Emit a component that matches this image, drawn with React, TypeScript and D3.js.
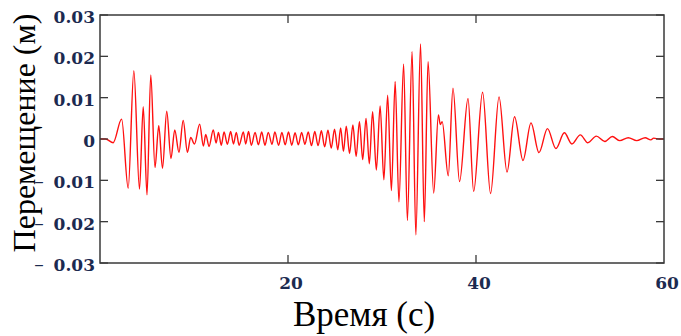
import React, { useEffect, useRef } from 'react';
import * as d3 from 'd3';

// extremes of the displacement trace (time s, displacement m)
const peakTimes = [
  0, 0.6, 1.4, 2.3, 3.0, 3.6, 4.2, 4.6, 5.0, 5.4, 5.85, 6.25, 6.65, 7.1, 7.55, 7.95, 8.4, 8.85, 9.3, 9.65,
  10.05, 10.6, 11.0, 11.25, 11.6, 12.05, 12.35, 12.6, 12.9, 13.2, 13.55, 13.9, 14.2, 14.5, 14.8, 15.25,
  15.5, 15.8, 16.1, 16.5, 16.85, 17.2, 17.55, 17.9, 18.3, 18.6, 19.0, 19.35, 19.7, 20.05, 20.4, 20.75,
  21.1, 21.45, 21.8, 22.15, 22.5, 22.85, 23.2, 23.55, 23.9, 24.25, 24.6, 24.95, 25.3, 25.6, 25.9, 26.2,
  26.55, 26.9, 27.25, 27.6, 27.95, 28.3, 28.65, 29.0, 29.4, 29.8, 30.2, 30.6, 31.0, 31.4, 31.8, 32.3,
  32.7, 33.2, 33.6, 34.1, 34.5, 34.9, 35.5, 36.0, 36.2, 36.4, 37.05, 37.55, 38.25, 39.15, 39.75, 40.7,
  41.55, 42.45, 43.3, 44.1, 45.0, 45.85, 46.7, 47.6, 48.5, 49.4, 50.2, 51.1, 51.9, 52.8, 53.7, 54.5,
  55.3, 56.2, 57.1, 58.0, 58.6, 58.9, 59.5, 60
];
const peakValues = [
  0, 0, -0.0009, 0.0048, -0.0119, 0.0165, -0.0121, 0.0078, -0.0135, 0.0155, -0.0069, 0.0032, -0.0071, 0.0067, -0.0047, 0.0022, -0.0032, 0.0045, -0.0032, 0.0004,
  -0.0012, 0.0036, -0.0017, 0.0011, -0.0018, 0.0022, -0.001, 0.0016, -0.0015, 0.0017, -0.0013, 0.0018, -0.0012, 0.0016, -0.0015, 0.0017,
  -0.0012, 0.0018, -0.0015, 0.0016, -0.0014, 0.0017, -0.0015, 0.0016, -0.0013, 0.0017, -0.0015, 0.0016, -0.0014, 0.0017, -0.0015, 0.0015,
  -0.0014, 0.0016, -0.0013, 0.0017, -0.0016, 0.0018, -0.0016, 0.002, -0.0019, 0.0021, -0.0022, 0.0024, -0.0026, 0.0027, -0.003, 0.0031,
  -0.0035, 0.0034, -0.0042, 0.0042, -0.005, 0.005, -0.006, 0.0066, -0.0075, 0.008, -0.0099, 0.0106, -0.0125, 0.0139, -0.0152, 0.0181,
  -0.0197, 0.0211, -0.0232, 0.023, -0.02, 0.0187, -0.0131, 0.0058, 0.0035, 0.0042, -0.0089, 0.0123, -0.0103, 0.0098, -0.0127, 0.0113,
  -0.0132, 0.0102, -0.008, 0.0054, -0.0052, 0.0039, -0.0033, 0.0025, -0.0023, 0.0015, -0.0012, 0.001, -0.0009, 0.0007, -0.0006, 0.0006,
  -0.0004, 0.0003, -0.0004, 0.0003, -0.0002, 0.0002, 0, 0
];

const yTicks = [0.03, 0.02, 0.01, 0, -0.01, -0.02, -0.03];
const xTicks = [20, 40, 60];

const App = () => {
  const svgRef = useRef<SVGSVGElement>(null);

  useEffect(() => {
    const svg = d3.select(svgRef.current);
    svg.selectAll('*').remove();

    const left = 100, right = 664, top = 15, bottom = 263;
    const tickLen = 8;

    const x = d3.scaleLinear().domain([0, 60]).range([left, right]);
    const y = d3.scaleLinear().domain([-0.03, 0.03]).range([bottom, top]);

    const points: [number, number][] = peakTimes.map((t, i) => [t, peakValues[i]]);

    const line = d3.line<[number, number]>()
      .x(d => x(d[0]))
      .y(d => y(d[1]))
      .curve(d3.curveMonotoneX);

    svg.append('path')
      .datum(points)
      .attr('d', line)
      .attr('fill', 'none')
      .attr('stroke', '#ff1010')
      .attr('stroke-width', 1.4)
      .attr('stroke-linejoin', 'round');

    // frame
    svg.append('rect')
      .attr('x', left)
      .attr('y', top)
      .attr('width', right - left)
      .attr('height', bottom - top)
      .attr('fill', 'none')
      .attr('stroke', '#3a3a3a')
      .attr('stroke-width', 1.5);

    const tickColor = '#3a3a3a';
    const labelColor = '#1c2a50';

    // y ticks (inward, both sides) and labels, minus sign drawn apart on the far left
    yTicks.forEach(v => {
      const ty = y(v);
      [[left, left + tickLen], [right, right - tickLen]].forEach(([a, b]) => {
        svg.append('line')
          .attr('x1', a).attr('x2', b)
          .attr('y1', ty).attr('y2', ty)
          .attr('stroke', tickColor)
          .attr('stroke-width', 1.3);
      });
      svg.append('text')
        .attr('x', 95)
        .attr('y', ty + 8)
        .attr('text-anchor', 'end')
        .style('font-family', '"DejaVu Serif", serif')
        .style('font-weight', 'bold')
        .style('font-size', '17px')
        .style('fill', labelColor)
        .text(String(Math.abs(v)));
      if (v < 0) {
        svg.append('text')
          .attr('x', 39)
          .attr('y', ty + 8)
          .attr('text-anchor', 'middle')
          .style('font-family', '"DejaVu Serif", serif')
          .style('font-size', '19px')
          .style('fill', labelColor)
          .text('–');
      }
    });

    // x ticks (inward, top and bottom) and labels
    xTicks.forEach(v => {
      const tx = x(v);
      if (v < 60) {
        [[bottom, bottom - tickLen], [top, top + tickLen]].forEach(([a, b]) => {
          svg.append('line')
            .attr('x1', tx).attr('x2', tx)
            .attr('y1', a).attr('y2', b)
            .attr('stroke', tickColor)
            .attr('stroke-width', 1.3);
        });
      }
      svg.append('text')
        .attr('x', tx + 3)
        .attr('y', 289)
        .attr('text-anchor', 'middle')
        .style('font-family', '"DejaVu Serif", serif')
        .style('font-weight', 'bold')
        .style('font-size', '17px')
        .style('fill', labelColor)
        .text(String(v));
    });

    // axis titles
    svg.append('text')
      .attr('x', 364)
      .attr('y', 326)
      .attr('text-anchor', 'middle')
      .style('font-family', '"Liberation Serif", "Times New Roman", serif')
      .style('font-size', '35px')
      .style('fill', '#000')
      .text('Время (с)');

    svg.append('text')
      .attr('transform', 'translate(35,133) rotate(-90)')
      .attr('text-anchor', 'middle')
      .style('font-family', '"Liberation Serif", "Times New Roman", serif')
      .style('font-size', '32px')
      .style('fill', '#000')
      .text('Перемещение (м)');
  }, []);

  return (
    <svg
      ref={svgRef}
      width={681}
      height={336}
      style={{ position: 'absolute', left: 0, top: 0, background: '#fff' }}
    />
  );
};

export default App;
